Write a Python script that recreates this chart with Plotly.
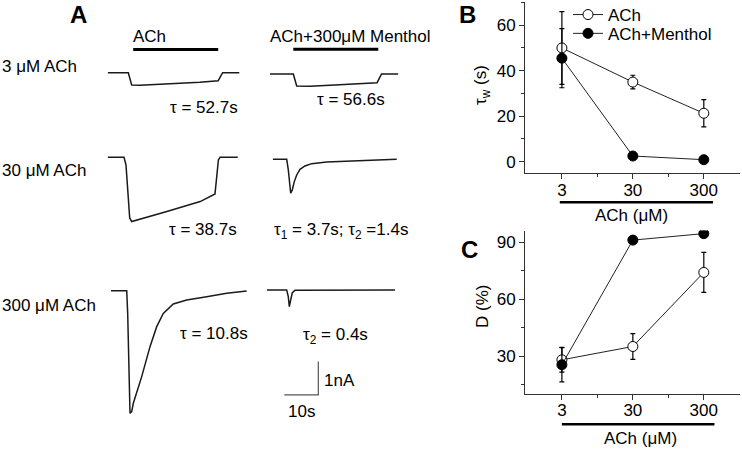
import plotly.graph_objects as go

W, H = 742, 451
FONT = "Liberation Sans, Arial, sans-serif"

# ---------------- Panel A: current traces (time in s from trace start, current in nA)
T_3_ACH = [0, 6.06, 7.06, 9.5, 15.4, 21.3, 27.1, 32.5, 33.8, 38.7]
I_3_ACH = [0, 0, -0.37, -0.38, -0.35, -0.32, -0.29, -0.24, 0, 0]

T_3_MEN = [0, 6.86, 7.85, 11.8, 17.6, 23.5, 31.5, 32.8, 37.7]
I_3_MEN = [0, 0, -0.36, -0.37, -0.34, -0.31, -0.26, 0, 0]

T_30_ACH = [0, 4.79, 5.38, 6.06, 6.47, 7.06, 12.5, 17.4, 22.3, 27.2, 31.56, 32.0, 32.56, 33.06, 38.26]
I_30_ACH = [0, 0, -0.23, -1.28, -1.82, -1.93, -1.76, -1.63, -1.48, -1.33, -1.10, -0.68, -0.08, 0, 0]

T_30_MEN = [0, 4.12, 4.59, 5.29, 5.76, 6.35, 7.06, 8.03, 9.5, 11.47, 15.88, 25.68, 36.47]
I_30_MEN = [0, 0, -0.32, -1.02, -0.92, -0.67, -0.47, -0.30, -0.20, -0.13, -0.08, -0.04, 0]

T_300_ACH = [0, 4.62, 4.91, 5.38, 5.59, 6.09, 6.56, 9.03, 11.47, 13.44, 15.38, 18.32, 22.26, 28.15, 34.03, 39.91]
I_300_ACH = [0, 0, -0.68, -2.68, -3.68, -3.63, -3.38, -2.58, -1.68, -1.08, -0.68, -0.40, -0.28, -0.18, -0.08, -0.01]

T_300_MEN = [0, 5.88, 6.35, 6.65, 7.06, 7.53, 8.32, 37.74]
I_300_MEN = [0, 0, -0.20, -0.50, -0.30, -0.08, -0.01, 0]

ACH_WINDOW = [7.5, 32.5]      # s, application bar, ACh alone
MEN_WINDOW = [6.85, 31.85]    # s, application bar, ACh + menthol
SCALE_T = 10   # s
SCALE_I = 1    # nA

# ---------------- Panels B and C
CONC_LABELS = ["3", "30", "300"]
TAU_ACH = [50, 35, 21.3]
TAU_ACH_ERR = [16, 3, 6]
TAU_MEN = [45.5, 2.5, 0.9]
TAU_MEN_ERR = [13, 0, 0]
D_ACH = [28, 35, 74]
D_ACH_ERR = [6.5, 6.8, 10.5]
D_MEN = [25.4, 91, 94.4]
D_MEN_ERR = [9, 0, 2]

PX_PER_S = 3.4
PX_PER_NA = 33.3

fig = go.Figure()

# trace anchors (pixel position of each trace start / baseline)
anchors = [(107.7, 72.7), (270, 74), (107.7, 157.3), (272.7, 159.3), (111, 290.7), (266.7, 290)]
series = [(T_3_ACH, I_3_ACH), (T_3_MEN, I_3_MEN), (T_30_ACH, I_30_ACH),
          (T_30_MEN, I_30_MEN), (T_300_ACH, I_300_ACH), (T_300_MEN, I_300_MEN)]
BOX_W, BOX_UP, BOX_DN = 150, 45, 130

layout_axes = {}
for k, ((ax, ay), (t, i)) in enumerate(zip(anchors, series), start=1):
    sfx = "" if k == 1 else str(k)
    fig.add_trace(go.Scatter(x=t, y=i, mode="lines", line=dict(color="#1a1a1a", width=1.5),
                             xaxis="x" + sfx, yaxis="y" + sfx, showlegend=False, hoverinfo="skip"))
    layout_axes["xaxis" + sfx] = dict(domain=[ax / W, (ax + BOX_W) / W], range=[0, BOX_W / PX_PER_S],
                                      visible=False, anchor="y" + sfx, fixedrange=True)
    layout_axes["yaxis" + sfx] = dict(domain=[1 - (ay + BOX_DN) / H, 1 - (ay - BOX_UP) / H],
                                      range=[-BOX_DN / PX_PER_NA, BOX_UP / PX_PER_NA],
                                      visible=False, anchor="x" + sfx, fixedrange=True)

# scale bar in the last trace's axes
sb_t1, sb_i0 = 15.18, -3.15
fig.add_trace(go.Scatter(x=[sb_t1 - SCALE_T, sb_t1, sb_t1], y=[sb_i0, sb_i0, sb_i0 + SCALE_I],
                         mode="lines", line=dict(color="#555", width=1.2),
                         xaxis="x6", yaxis="y6", showlegend=False, hoverinfo="skip"))

shapes = [
    dict(type="line", xref="x", yref="y", x0=ACH_WINDOW[0], x1=ACH_WINDOW[1], y0=0.70, y1=0.70,
         line=dict(color="black", width=3)),
    dict(type="line", xref="x2", yref="y2", x0=MEN_WINDOW[0], x1=MEN_WINDOW[1], y0=0.74, y1=0.74,
         line=dict(color="black", width=3)),
]

# ---------------- Panel B and C data
xi = list(range(len(CONC_LABELS)))
for (yv, ye, filled, name, ax_s, show, leg) in [
        (TAU_ACH, TAU_ACH_ERR, False, "ACh", "7", True, "legend"),
        (TAU_MEN, TAU_MEN_ERR, True, "ACh+Menthol", "7", True, "legend2"),
        (D_ACH, D_ACH_ERR, False, "ACh", "8", False, "legend"),
        (D_MEN, D_MEN_ERR, True, "ACh+Menthol", "8", False, "legend2")]:
    fig.add_trace(go.Scatter(
        x=xi, y=yv, mode="lines+markers", name=name, showlegend=show, legend=leg,
        xaxis="x" + ax_s, yaxis="y" + ax_s,
        line=dict(color="#222", width=1),
        marker=dict(symbol="circle", size=10, color="black" if filled else "white",
                    line=dict(color="black", width=1)),
        error_y=dict(type="data", array=ye, color="black", thickness=1.2, width=2.5),
    ))

def xax(domain, anchor):
    return dict(domain=domain, range=[-0.52, 2.51], tickmode="array", tickvals=xi, ticktext=CONC_LABELS,
                showline=True, linecolor="#333", linewidth=1, ticks="outside", ticklen=5, tickcolor="#333",
                ticklabelstandoff=-4,
                minor=dict(tickmode="array", tickvals=[0.5, 1.5], ticks="outside", ticklen=3, tickcolor="#333"),
                showgrid=False, zeroline=False, anchor=anchor, fixedrange=True,
                tickfont=dict(family=FONT, size=17, color="black"))

def yax(domain, rng, dtick, minor, anchor):
    return dict(domain=domain, range=rng, tick0=0, dtick=dtick,
                showline=True, linecolor="#333", linewidth=1, ticks="outside", ticklen=5, tickcolor="#333",
                minor=dict(dtick=minor, tick0=0, ticks="outside", ticklen=3, tickcolor="#333"),
                showgrid=False, zeroline=False, anchor=anchor, fixedrange=True,
                tickfont=dict(family=FONT, size=17, color="black"))

xd = [525 / W, 740 / W]
layout_axes["xaxis7"] = xax(xd, "y7")
layout_axes["yaxis7"] = yax([1 - 173.1 / H, 1 - 2.45 / H], [-5, 70], 20, 10, "x7")
layout_axes["xaxis8"] = xax(xd, "y8")
layout_axes["yaxis8"] = yax([1 - 394 / H, 1 - 230.6 / H], [10, 96], 30, 15, "x8")

shapes += [
    dict(type="line", xref="x7", yref="paper", x0=-0.03, x1=2.13, y0=1 - 202.3 / H, y1=1 - 202.3 / H,
         line=dict(color="black", width=2.5)),
    dict(type="line", xref="x8", yref="paper", x0=0.0, x1=2.15, y0=1 - 424.3 / H, y1=1 - 424.3 / H,
         line=dict(color="black", width=2.5)),
]

def ann(text, px, py, xanchor="center", size=17, bold=False, angle=0):
    return dict(text=("<b>%s</b>" % text) if bold else text, x=px / W, y=1 - py / H,
                xref="paper", yref="paper", xanchor=xanchor, yanchor="middle", showarrow=False,
                textangle=angle, font=dict(family=FONT, size=size, color="black"))

annotations = [
    ann("A", 78, 15, size=24, bold=True),
    ann("B", 467, 15, size=24, bold=True),
    ann("C", 469, 249, size=24, bold=True),
    ann("ACh", 131, 36, xanchor="left"),
    ann("ACh+300μM Menthol", 350.5, 36),
    ann("3 μM ACh", 0, 66.7, xanchor="left"),
    ann("τ = 52.7s", 240, 107.3, xanchor="right"),
    ann("τ = 56.6s", 351, 99.3),
    ann("30 μM ACh", 0, 170.7, xanchor="left"),
    ann("τ = 38.7s", 238.5, 229.3, xanchor="right"),
    ann("τ<sub>1</sub> = 3.7s; τ<sub>2</sub> =1.4s", 341, 231),
    ann("300 μM ACh", 0, 305, xanchor="left"),
    ann("τ = 10.8s", 250, 333.3, xanchor="right"),
    ann("τ<sub>2</sub> = 0.4s", 335, 336),
    ann("1nA", 321.5, 380, xanchor="left"),
    ann("10s", 301.7, 411.7),
    ann("τ<sub>w</sub> (s)", 482, 85, angle=-90),
    ann("D (%)", 482, 307, angle=-90),
    ann("ACh (μM)", 631.5, 215),
    ann("ACh (μM)", 640.5, 438),
]

legend_common = dict(xanchor="left", yanchor="top", bgcolor="rgba(0,0,0,0)",
                     font=dict(family=FONT, size=17), itemsizing="trace")
fig.update_layout(
    width=W, height=H, margin=dict(l=0, r=0, t=0, b=0, autoexpand=False),
    paper_bgcolor="white", plot_bgcolor="rgba(0,0,0,0)",
    font=dict(family=FONT, size=17, color="black"),
    showlegend=True,
    legend=dict(x=568 / W, y=1 + 3 / H, **legend_common),
    legend2=dict(x=568 / W, y=1 - 15.8 / H, **legend_common),
    shapes=shapes, annotations=annotations,
    **layout_axes,
)

fig.write_html("out.html", config={"displayModeBar": False},
               post_script="document.body.style.margin='0px';document.body.style.overflow='hidden';")
